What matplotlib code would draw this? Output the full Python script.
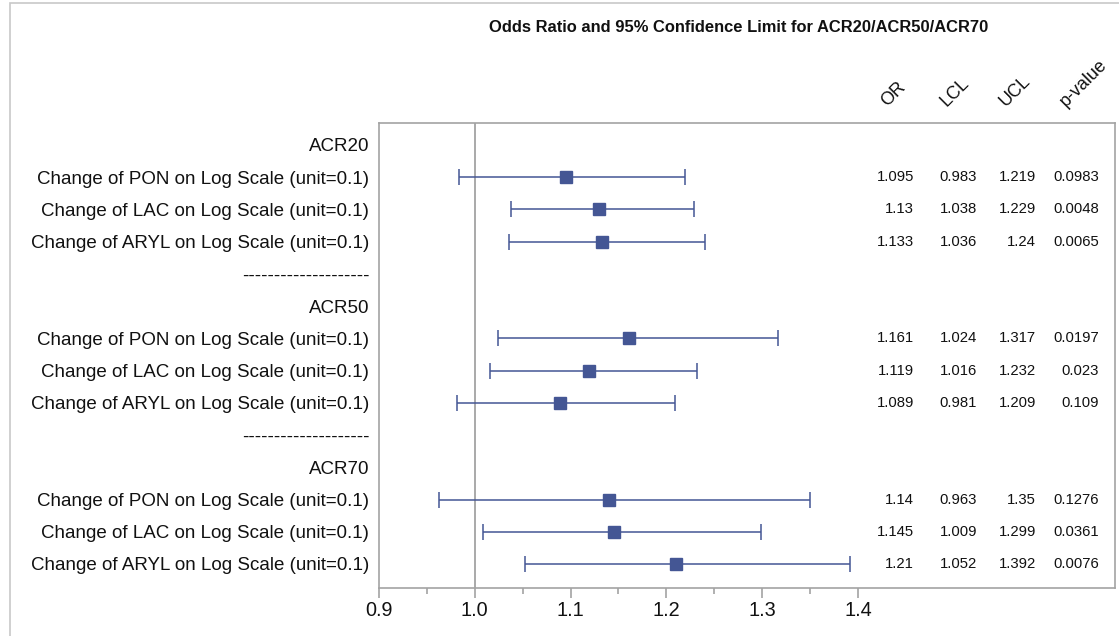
import matplotlib
matplotlib.use("Agg")
import matplotlib.pyplot as plt
from matplotlib.patches import Rectangle
from matplotlib.ticker import FixedLocator
import matplotlib.transforms as mtransforms

plt.rcParams['font.family'] = ['Liberation Sans', 'DejaVu Sans']

# ---- data ----
groups = ["ACR20", "ACR50", "ACR70"]
effects = ["Change of PON on Log Scale (unit=0.1)",
           "Change of LAC on Log Scale (unit=0.1)",
           "Change of ARYL on Log Scale (unit=0.1)"]
or_vals = [1.095, 1.13, 1.133, 1.161, 1.119, 1.089, 1.14, 1.145, 1.21]
lcl_vals = [0.983, 1.038, 1.036, 1.024, 1.016, 0.981, 0.963, 1.009, 1.052]
ucl_vals = [1.219, 1.229, 1.24, 1.317, 1.232, 1.209, 1.35, 1.299, 1.392]
or_txt = ["1.095", "1.13", "1.133", "1.161", "1.119", "1.089", "1.14", "1.145", "1.21"]
lcl_txt = ["0.983", "1.038", "1.036", "1.024", "1.016", "0.981", "0.963", "1.009", "1.052"]
ucl_txt = ["1.219", "1.229", "1.24", "1.317", "1.232", "1.209", "1.35", "1.299", "1.392"]
p_txt = ["0.0983", "0.0048", "0.0065", "0.0197", "0.023", "0.109", "0.1276", "0.0361", "0.0076"]
col_headers = ["OR", "LCL", "UCL", "p-value"]
x_ticks = [0.9, 1.0, 1.1, 1.2, 1.3, 1.4]
x_tick_labels = ["0.9", "1.0", "1.1", "1.2", "1.3", "1.4"]
separator = "--------------------"

# ---- layout ----
W, H = 1119, 636
fig = plt.figure(figsize=(W / 100, H / 100), dpi=100)
fig.patch.set_facecolor("white")
fig.add_artist(Rectangle((10 / W, -0.01), 1.02, 1 - 3 / H + 0.01, transform=fig.transFigure,
                         fill=False, edgecolor="#c8c8c8", linewidth=1.2))

ax_l, ax_r, ax_t, ax_b = 379, 1115, 123, 588
ax = fig.add_axes([ax_l / W, 1 - ax_b / H, (ax_r - ax_l) / W, (ax_b - ax_t) / H])

color = "#445694"
grey = "#a3a3a3"
txtc = "#111111"

# build row structure
ylabels = []
ypos_data = []
row = 0
for gi, g in enumerate(groups):
    ylabels.append(g)
    row += 1
    for ei, e in enumerate(effects):
        ylabels.append(e)
        ypos_data.append(row)
        row += 1
    if gi < len(groups) - 1:
        ylabels.append(separator)
        row += 1

nrows = len(ylabels)
ax.axvline(1.0, color=grey, linewidth=1.3, zorder=1)
for i, y in enumerate(ypos_data):
    ax.errorbar(or_vals[i], y, xerr=[[or_vals[i] - lcl_vals[i]], [ucl_vals[i] - or_vals[i]]],
                fmt="s", color=color, ecolor=color, elinewidth=1.1, capsize=5.5, capthick=1.1,
                markersize=8, markeredgecolor=color, zorder=3)

px_per_unit = (858 - 379) / 0.5
ax.set_xlim(0.9, 0.9 + (ax_r - ax_l) / px_per_unit)
spacing = (564 - 145) / 13
ax.set_ylim(13 + (ax_b - 564) / spacing, -(145 - ax_t) / spacing)

ax.xaxis.set_major_locator(FixedLocator(x_ticks))
ax.set_xticklabels(x_tick_labels, fontsize=14.3, color=txtc)
ax.xaxis.set_minor_locator(FixedLocator([0.95, 1.05, 1.15, 1.25, 1.35]))
ax.tick_params(axis="x", which="major", direction="out", length=7, width=1.2, color=grey, pad=2.5)
ax.tick_params(axis="x", which="minor", direction="out", length=4, width=1.2, color=grey)

ax.set_yticks(range(nrows))
ax.set_yticklabels(ylabels, fontsize=13.5, color=txtc)
ax.tick_params(axis="y", length=0, pad=7)

for s in ax.spines.values():
    s.set_color(grey)
    s.set_linewidth(1.2)

# stats columns
trans = mtransforms.blended_transform_factory(ax.transAxes, ax.transData)
col_x = [(914 - ax_l) / (ax_r - ax_l), (977 - ax_l) / (ax_r - ax_l),
         (1036 - ax_l) / (ax_r - ax_l), (1099 - ax_l) / (ax_r - ax_l)]
for i, y in enumerate(ypos_data):
    for cx, txt in zip(col_x, [or_txt[i], lcl_txt[i], ucl_txt[i], p_txt[i]]):
        ax.text(cx, y, txt, transform=trans, ha="right", va="center", fontsize=10.7, color=txtc)

# rotated headers
hdr_x = [890, 949, 1008, 1069]
for hx, h in zip(hdr_x, col_headers):
    fig.text(hx / W, 1 - 110 / H, h, rotation=45, rotation_mode="anchor", ha="left", va="bottom",
             fontsize=13, color=txtc)

fig.text(739 / W, 1 - 27 / H, "Odds Ratio and 95% Confidence Limit for ACR20/ACR50/ACR70",
         ha="center", va="center", fontsize=11.9, fontweight="bold", color=txtc)

fig.savefig("out.png", dpi=100)
